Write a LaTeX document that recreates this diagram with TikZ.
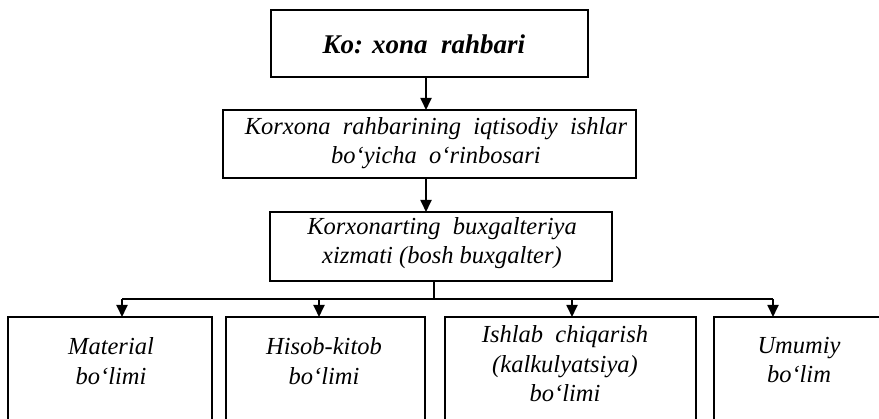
\documentclass[tikz,border=0pt]{standalone}
\usepackage{fontspec}
\setmainfont{Liberation Serif}
\usetikzlibrary{arrows.meta}
\begin{document}
\begin{tikzpicture}[x=1pt,y=-1pt,
  boxshape/.style={draw=black,line width=1.8pt,inner sep=0pt},
  lbl/.style={font=\fontsize{24.5}{29.5}\selectfont\itshape,align=center,inner sep=0pt},
  conn/.style={line width=1.8pt,-{Triangle[length=12pt,width=11pt]}},
  bus/.style={line width=1.8pt}]
\useasboundingbox (0,0) rectangle (879,419);
\clip (0,0) rectangle (879,419);
% boxes
\draw[boxshape] (271,10) rectangle (588,77);
\coordinate (b1s) at (426,77);
\node[font=\fontsize{27}{32}\selectfont\bfseries\itshape,inner sep=0pt] (t1) at (424,44) {Ko: xona\ \ rahbari};

\draw[boxshape] (223,110) rectangle (636,178);
\coordinate (b2n) at (426,110);
\coordinate (b2s) at (426,178);
\node[lbl] (t2) at (436,143) {Korxona\ \ rahbarining\ \ iqtisodiy\ \ ishlar\\bo‘yicha\ \ o‘rinbosari};

\draw[boxshape] (270,212) rectangle (612,281);
\coordinate (b3n) at (426,212);
\coordinate (b3s) at (434,281);
\node[lbl] (t3) at (442,243) {Korxonarting\ \ buxgalteriya\\xizmati (bosh buxgalter)};

\draw[boxshape] (8,317) rectangle (212,440);
\coordinate (b4n) at (122,317);
\node[lbl] (t4) at (111,361) {Material\\bo‘limi};

\draw[boxshape] (226,317) rectangle (425,440);
\coordinate (b5n) at (319,317);
\node[lbl] (t5) at (324,361) {Hisob-kitob\\bo‘limi};

\draw[boxshape] (445,317) rectangle (696,440);
\coordinate (b6n) at (572,317);
\node[lbl] (t6) at (565,364) {Ishlab\ \ chiqarish\\(kalkulyatsiya)\\bo‘limi};

\draw[boxshape] (714,317) rectangle (900,440);
\coordinate (b7n) at (773,317);
\node[lbl] (t7) at (799,360) {Umumiy\\bo‘lim};

% connectors
\draw[conn] (b1s) -- (b2n);
\draw[conn] (b2s) -- (b3n);
\coordinate (bj) at (434,299);
\coordinate (bl) at (122,299);
\coordinate (br) at (773,299);
\draw[bus] (b3s) -- (bj);
\draw[bus] (bl) -- (br);
\draw[conn] (bl) -- (b4n);
\draw[conn] (b5n |- bl) -- (b5n);
\draw[conn] (b6n |- bl) -- (b6n);
\draw[conn] (br) -- (b7n);
\end{tikzpicture}
\end{document}
